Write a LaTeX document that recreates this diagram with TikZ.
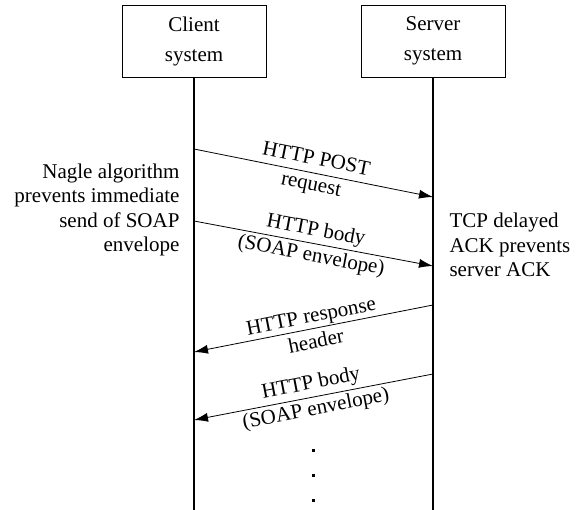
\documentclass[tikz,border=0pt]{standalone}
\usepackage{fontspec}
\setmainfont{Liberation Serif}
\usepackage{tikz}
\usetikzlibrary{arrows,arrows.meta,positioning,shapes,calc}

\begin{document}
\begin{tikzpicture}[x = 1pt, y = -1pt, font = \fontsize{21}{24.5}\selectfont,
  sysbox/.style = {draw, line width = 0.8pt, minimum width = 144pt, minimum height = 72pt, align = center, font = \fontsize{21}{30}\selectfont},
  life/.style = {line width = 1.6pt},
  msg/.style = {-{Latex[length=14pt, width=9pt]}, line width = 0.8pt},
  msglabel/.style = {midway, sloped, align = center, font = \fontsize{21}{26}\selectfont}]
  \useasboundingbox (0,0) rectangle (580,510);
  \node[sysbox] (client) at (194,41) {Client\\system};
  \node[sysbox] (server) at (433,41) {Server\\system};
  \coordinate (cend) at (194,510);
  \coordinate (send) at (433,510);
  \draw[life] (client) -- (cend);
  \draw[life] (server) -- (send);
  % messages
  \coordinate (c1) at (194,149);
  \coordinate (s1) at (433,197);
  \coordinate (c2) at (194,221);
  \coordinate (s2) at (433,266);
  \coordinate (s3) at (433,305);
  \coordinate (c3) at (194,352);
  \coordinate (s4) at (433,374);
  \coordinate (c4) at (194,420);
  \draw[msg] (c1) -- node[msglabel] {HTTP POST\\request} (s1);
  \draw[msg] (c2) -- node[msglabel] {HTTP body\\(SOAP envelope)} (s2);
  \draw[msg] (s3) -- node[msglabel] {HTTP response\\header} (c3);
  \draw[msg] (s4) -- node[msglabel] {HTTP body\\(SOAP envelope)} (c4);
  \node[anchor = east, align = right] (nagle) at (183,210) {Nagle algorithm\\prevents immediate\\send of SOAP\\envelope};
  \node[anchor = west, align = left] (delack) at (446,245) {TCP delayed\\ACK prevents\\server ACK};
  % continuation dots
  \foreach \y in {450,475,500}
    \fill (311.5,\y-1.5) rectangle (314.5,\y+1.5);
\end{tikzpicture}
\end{document}
